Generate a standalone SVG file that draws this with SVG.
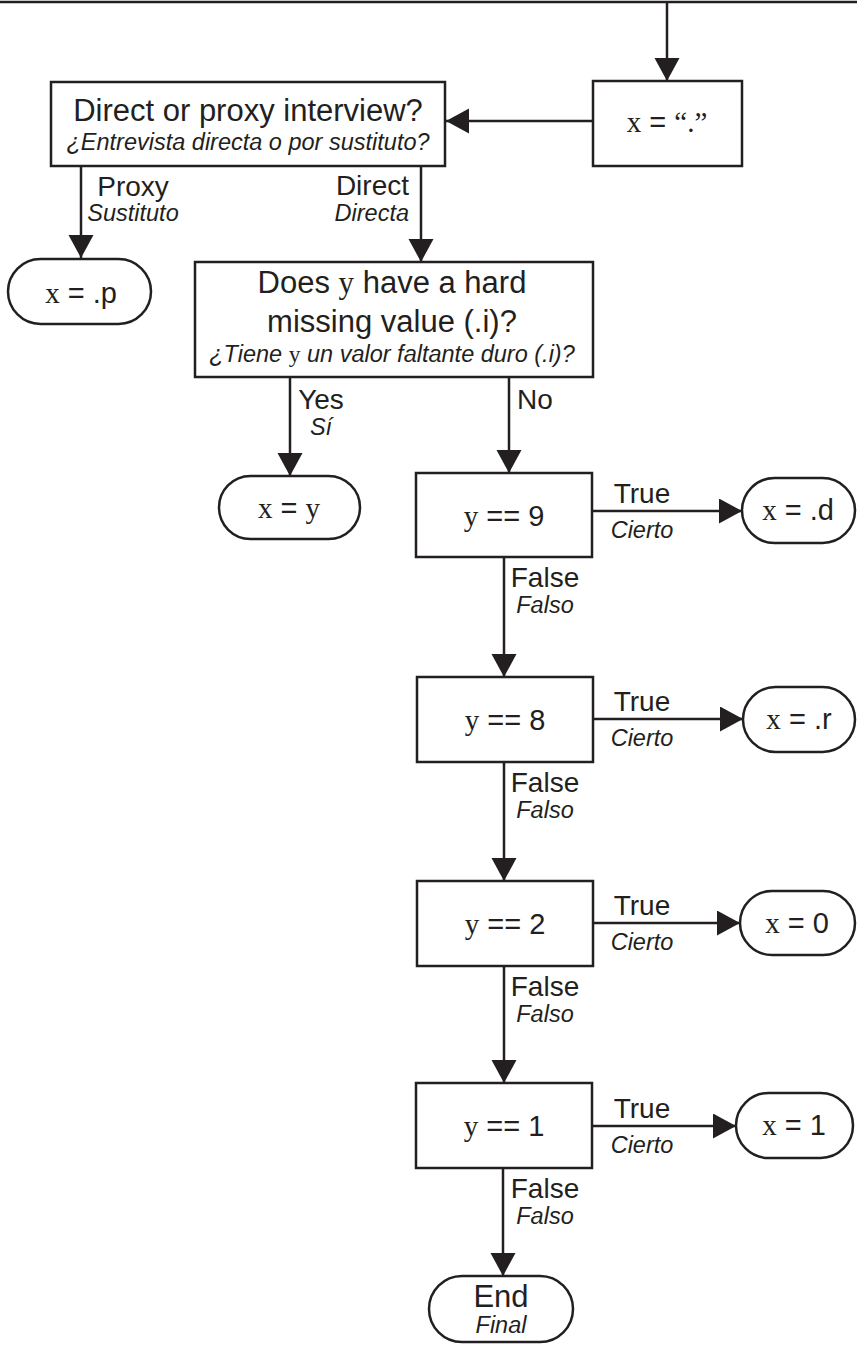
<svg xmlns="http://www.w3.org/2000/svg" width="857" height="1352" viewBox="0 0 857 1352">
<style>
.bx{fill:#fff;stroke:#231f20;stroke-width:2.5}
.cn{fill:none;stroke:#231f20;stroke-width:2.5}
text{font-family:"Liberation Sans",Arial,sans-serif;fill:#231f20}
.h{font-size:31px;text-anchor:middle}
.n{font-size:29px;text-anchor:middle}
.l{font-size:28px;text-anchor:middle}
.i{font-size:23.5px;font-style:italic;text-anchor:middle}
.v{font-family:"Liberation Serif","Times New Roman",serif;font-style:normal}
</style>
<defs>
<marker id="ah" markerUnits="userSpaceOnUse" markerWidth="24" markerHeight="26" refX="23" refY="12.5" orient="auto" viewBox="0 0 24 26">
<path d="M0,0 L23,12.5 L0,25 Z" fill="#231f20"/>
</marker>
</defs>
<rect width="857" height="1352" fill="#fff"/>
<g id="connectors">
<path class="cn" d="M0,2 H857"/>
<path class="cn" d="M667,2 V81" marker-end="url(#ah)"/>
<path class="cn" d="M593,121 H446" marker-end="url(#ah)"/>
<path class="cn" d="M81,166 V258" marker-end="url(#ah)"/>
<path class="cn" d="M421,166 V262" marker-end="url(#ah)"/>
<path class="cn" d="M290,377 V476" marker-end="url(#ah)"/>
<path class="cn" d="M509,377 V473" marker-end="url(#ah)"/>
<path class="cn" d="M592,511 H742" marker-end="url(#ah)"/>
<path class="cn" d="M504,557 V677" marker-end="url(#ah)"/>
<path class="cn" d="M593,719 H743" marker-end="url(#ah)"/>
<path class="cn" d="M504,762 V881" marker-end="url(#ah)"/>
<path class="cn" d="M593,923 H740" marker-end="url(#ah)"/>
<path class="cn" d="M504,966 V1083" marker-end="url(#ah)"/>
<path class="cn" d="M592,1126 H736" marker-end="url(#ah)"/>
<path class="cn" d="M503,1168 V1276" marker-end="url(#ah)"/>
<text class="l" x="133" y="196">Proxy</text>
<text class="i" x="133" y="221">Sustituto</text>
<text class="l" x="409" y="195" style="text-anchor:end">Direct</text>
<text class="i" x="409" y="221" style="text-anchor:end">Directa</text>
<text class="l" x="321" y="409">Yes</text>
<text class="i" x="321" y="435">Sí</text>
<text class="l" x="517" y="409" style="text-anchor:start">No</text>
<text class="l" x="642" y="503">True</text>
<text class="i" x="642" y="538">Cierto</text>
<text class="l" x="545" y="587">False</text>
<text class="i" x="545" y="613">Falso</text>
<text class="l" x="642" y="711">True</text>
<text class="i" x="642" y="746">Cierto</text>
<text class="l" x="545" y="792">False</text>
<text class="i" x="545" y="818">Falso</text>
<text class="l" x="642" y="915">True</text>
<text class="i" x="642" y="950">Cierto</text>
<text class="l" x="545" y="996">False</text>
<text class="i" x="545" y="1022">Falso</text>
<text class="l" x="642" y="1118">True</text>
<text class="i" x="642" y="1153">Cierto</text>
<text class="l" x="545" y="1198">False</text>
<text class="i" x="545" y="1224">Falso</text>
</g>
<g id="node-direct">
<rect class="bx" x="51" y="82" width="394" height="84"/>
<text class="h" x="248" y="121">Direct or proxy interview?</text>
<text class="i" x="248" y="150">¿Entrevista directa o por sustituto?</text>
</g>
<g id="node-xdot">
<rect class="bx" x="593" y="81" width="149" height="85"/>
<text class="n" x="667" y="132"><tspan class="v">x</tspan> = <tspan class="v">“.”</tspan></text>
</g>
<g id="node-xp">
<rect class="bx" x="8" y="259" width="143" height="65" rx="32.5"/>
<text class="n" x="81" y="303"><tspan class="v">x</tspan> = .p</text>
</g>
<g id="node-hard">
<rect class="bx" x="195" y="262" width="398" height="115"/>
<text class="h" x="392" y="293">Does <tspan class="v">y</tspan> have a hard</text>
<text class="h" x="392" y="332">missing value (.i)?</text>
<text class="i" x="392" y="362">¿Tiene <tspan class="v">y</tspan> un valor faltante duro (.i)?</text>
</g>
<g id="node-xy">
<rect class="bx" x="219" y="476" width="141" height="63" rx="31.5"/>
<text class="n" x="289" y="518"><tspan class="v">x</tspan> = <tspan class="v">y</tspan></text>
</g>
<g id="node-y9">
<rect class="bx" x="416" y="473" width="176" height="84"/>
<text class="n" x="504" y="526"><tspan class="v">y</tspan> == 9</text>
</g>
<g id="node-xd">
<rect class="bx" x="742" y="478" width="113" height="65" rx="32.5"/>
<text class="n" x="798" y="520"><tspan class="v">x</tspan> = .d</text>
</g>
<g id="node-y8">
<rect class="bx" x="417" y="677" width="176" height="85"/>
<text class="n" x="505" y="730"><tspan class="v">y</tspan> == 8</text>
</g>
<g id="node-xr">
<rect class="bx" x="743" y="687" width="112" height="65" rx="32.5"/>
<text class="n" x="799" y="729"><tspan class="v">x</tspan> = .r</text>
</g>
<g id="node-y2">
<rect class="bx" x="417" y="881" width="176" height="85"/>
<text class="n" x="505" y="934"><tspan class="v">y</tspan> == 2</text>
</g>
<g id="node-x0">
<rect class="bx" x="740" y="891" width="115" height="64" rx="32"/>
<text class="n" x="797" y="933"><tspan class="v">x</tspan> = 0</text>
</g>
<g id="node-y1">
<rect class="bx" x="416" y="1083" width="176" height="85"/>
<text class="n" x="504" y="1136"><tspan class="v">y</tspan> == 1</text>
</g>
<g id="node-x1">
<rect class="bx" x="736" y="1093" width="117" height="65" rx="32.5"/>
<text class="n" x="794" y="1135"><tspan class="v">x</tspan> = 1</text>
</g>
<g id="node-end">
<rect class="bx" x="429" y="1276" width="144" height="66" rx="33"/>
<text class="h" x="501" y="1307">End</text>
<text class="i" x="501" y="1333">Final</text>
</g>
</svg>
